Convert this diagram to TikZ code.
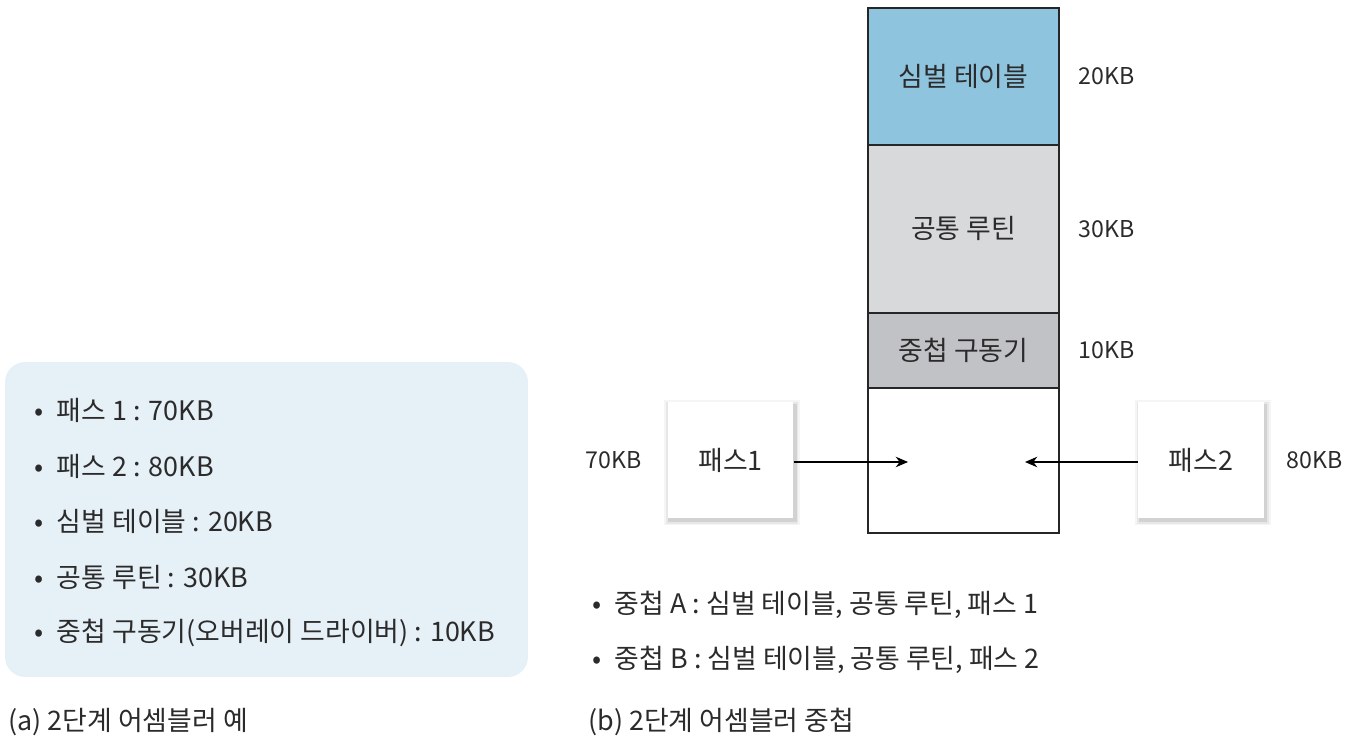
\documentclass[tikz,border=0pt]{standalone}
\usepackage{fontspec}
\setmainfont{Noto Sans CJK KR}
\usetikzlibrary{positioning,shadows,arrows.meta}
\definecolor{symblue}{HTML}{8FC4DF}
\definecolor{routgray}{HTML}{D8D9DB}
\definecolor{drvgray}{HTML}{C1C2C5}
\definecolor{panelblue}{HTML}{E6F0F7}
\definecolor{txtgray}{HTML}{2B2B2B}
\begin{document}
\begin{tikzpicture}[x=0.02cm, y=-0.02cm, node distance=0pt,
	every node/.style = {text=txtgray},
	seg/.style = {draw=black!85, line width=0.9pt, minimum width=3.82cm, inner sep=0pt, outer sep=0pt, font=\fontsize{15.3}{18}\selectfont},
	size/.style = {inner sep=0pt, font=\fontsize{13.2}{16}\selectfont},
	pass/.style = {fill=white, minimum width=2.52cm, minimum height=2.32cm, font=\fontsize{15.3}{18}\selectfont,
		general shadow={fill=black, opacity=0.04, shadow xshift=1pt, shadow yshift=-1.5pt, shadow scale=1.08},
		general shadow={fill=black, opacity=0.06, shadow xshift=1pt, shadow yshift=-1.5pt, shadow scale=1.05},
		general shadow={fill=black, opacity=0.09, shadow xshift=1.2pt, shadow yshift=-1.8pt, shadow scale=1.02}},
	item/.style = {anchor=west, inner sep=0pt, font=\fontsize{15.3}{18}\selectfont},
	arr/.style = {-{Stealth[length=7pt, width=6pt]}, line width=0.6pt}]
	\useasboundingbox (0,0) rectangle (1350,753);

	% (a) list panel
	\node[fill=panelblue, rounded corners=0.4cm, minimum width=10.46cm, minimum height=6.3cm] (panel) at (266.5,519.5) {};
	\node[item] (i1) at (34,410) {•\enspace 패스 1 : 70KB};
	\node[item] (i2) at (34,466) {•\enspace 패스 2 : 80KB};
	\node[item] (i3) at (34,521) {•\enspace 심벌 테이블 : 20KB};
	\node[item] (i4) at (34,577) {•\enspace 공통 루틴 : 30KB};
	\node[item] (i5) at (34,633) {•\enspace 중첩 구동기(오버레이 드라이버) : 10KB};
	\node[item] (capa) at (8,722) {(a) 2단계 어셈블러 예};

	% (b) memory
	\node[seg, fill=symblue, minimum height=2.74cm, anchor=north west] (sym) at (868,8) {심벌 테이블};
	\node[seg, fill=routgray, minimum height=3.36cm, below=of sym] (rout) {공통 루틴};
	\node[seg, fill=drvgray, minimum height=1.5cm, below=of rout] (drv) {중첩 구동기};
	\node[seg, fill=white, minimum height=2.9cm, below=of drv] (free) {};

	\node[size, right=0.38cm of sym] (s1) {20KB};
	\node[size, right=0.38cm of rout] (s2) {30KB};
	\node[size, right=0.38cm of drv] (s3) {10KB};

	\node[pass] (p1) at (730.5,460) {패스1};
	\node[pass] (p2) at (1201,460) {패스2};
	\node[size, left=0.5cm of p1] (s4) {70KB};
	\node[size, right=0.44cm of p2] (s5) {80KB};

	\coordinate (t1) at (908,462);
	\coordinate (t2) at (1025,462);
	\draw[arr] (p1.east |- t1) -- (t1);
	\draw[arr] (p2.west |- t2) -- (t2);

	\node[item] (o1) at (592,605) {•\enspace 중첩 A : 심벌 테이블, 공통 루틴, 패스 1};
	\node[item] (o2) at (592,660) {•\enspace 중첩 B : 심벌 테이블, 공통 루틴, 패스 2};
	\node[item] (capb) at (588,722) {(b) 2단계 어셈블러 중첩};
\end{tikzpicture}
\end{document}
